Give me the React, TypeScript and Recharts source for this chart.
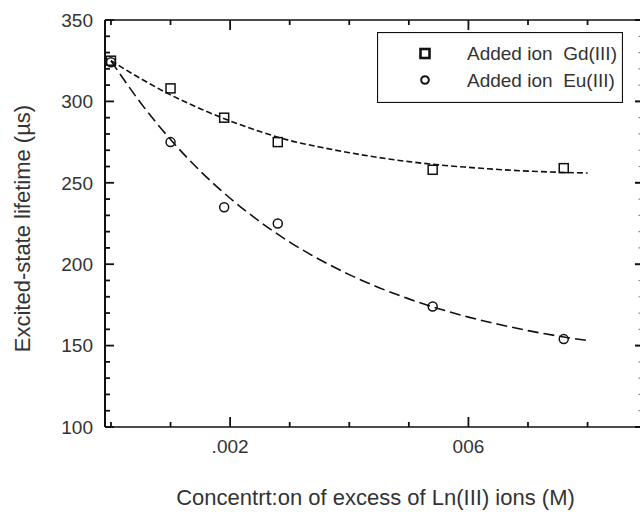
import React from "react";
import { ComposedChart, Line, Scatter, XAxis, YAxis, Legend } from "recharts";

// ---- data ----
const fitX = [0, 0.0005, 0.001, 0.0015, 0.002, 0.0025, 0.003, 0.0035, 0.004, 0.0045, 0.005, 0.0055, 0.006, 0.0065, 0.007, 0.0075, 0.008];
const gdFit = [325, 314, 304, 295.5, 288, 281.5, 276, 272, 268.5, 265.5, 263, 261, 259.5, 258.2, 257.2, 256.5, 256];
const euFit = [325, 299, 276.6, 257.2, 240.5, 226.1, 213.6, 202.9, 193.6, 185.6, 178.7, 172.7, 167.5, 163.1, 159.2, 155.9, 153.1];

const gdX = [0, 0.001, 0.0019, 0.0028, 0.0054, 0.0076];
const gdY = [325, 308, 290, 275, 258, 259];
const euX = [0, 0.001, 0.0019, 0.0028, 0.0054, 0.0076];
const euY = [324, 275, 235, 225, 174, 154];

const xTicks = [0, 0.001, 0.002, 0.003, 0.004, 0.005, 0.006, 0.007, 0.008];
const xTickLabels = ["", "", ".002", "", "", "", "006", "", ""];
const yTicks = [100, 110, 120, 130, 140, 150, 160, 170, 180, 190, 200, 210, 220, 230, 240, 250, 260, 270, 280, 290, 300, 310, 320, 330, 340, 350];
const yMajor = [100, 150, 200, 250, 300, 350];

const seriesNames = ["Added ion  Gd(III)", "Added ion  Eu(III)"];
const xTitle = "Concentrt:on of excess of Ln(III) ions (M)";
const yTitle = "Excited-state lifetime (\u00b5s)";

const gdFitData = fitX.map((x, i) => ({ x, y: gdFit[i] }));
const euFitData = fitX.map((x, i) => ({ x, y: euFit[i] }));
const gdPts = gdX.map((x, i) => ({ x, y: gdY[i] }));
const euPts = euX.map((x, i) => ({ x, y: euY[i] }));

const X_DOMAIN = [-0.0001, 0.00888];
const Y_DOMAIN = [100, 350];

const FONT = "'Liberation Sans', Arial, sans-serif";
const TXT = "#333";
const INK = "#111";

const BottomTick = (p: any) => {
  const lab = xTickLabels[p.index] || "";
  const len = lab ? 10 : 5;
  return (
    <g>
      <line x1={p.x} x2={p.x} y1={p.y} y2={p.y - len} stroke={INK} strokeWidth={1.8} />
      {lab ? (
        <text x={p.x} y={p.y + 26} textAnchor="middle" fontSize={19} fontFamily={FONT} fill={TXT}>
          {lab}
        </text>
      ) : null}
    </g>
  );
};

const TopTick = (p: any) => {
  const lab = xTickLabels[p.index] || "";
  const len = lab ? 10 : 5;
  return <line x1={p.x} x2={p.x} y1={p.y} y2={p.y + len} stroke={INK} strokeWidth={1.8} />;
};

const LeftTick = (p: any) => {
  const v = p.payload.value;
  const major = yMajor.includes(v);
  return (
    <g>
      <line x1={p.x} x2={p.x + (major ? 9 : 5)} y1={p.y} y2={p.y} stroke={INK} strokeWidth={1.8} />
      {major ? (
        <text x={p.x - 12} y={p.y} dy="0.36em" textAnchor="end" fontSize={19} fontFamily={FONT} fill={TXT}>
          {v}
        </text>
      ) : null}
    </g>
  );
};

const RightTick = (p: any) => {
  const v = p.payload.value;
  const major = yMajor.includes(v);
  return (
    <line
      x1={p.x}
      x2={p.x - (major ? 5 : 1.5)}
      y1={p.y}
      y2={p.y}
      stroke={major ? INK : "#888"}
      strokeWidth={major ? 2 : 1.2}
    />
  );
};

const OpenSquare = (p: any) => (
  <rect x={p.cx - 4.5} y={p.cy - 4.5} width={9} height={9} fill="none" stroke={INK} strokeWidth={1.5} />
);
const OpenCircle = (p: any) => (
  <circle cx={p.cx} cy={p.cy} r={4.5} fill="none" stroke={INK} strokeWidth={1.5} />
);

const LegendBox = () => (
  <svg width={246} height={71} style={{ display: "block" }}>
    <rect x={0.5} y={0.5} width={245} height={70} fill="#fff" stroke={INK} strokeWidth={1.2} />
    <rect x={43.5} y={17} width={9} height={9} fill="none" stroke={INK} strokeWidth={2.6} />
    <circle cx={48} cy={48} r={3.8} fill="none" stroke={INK} strokeWidth={2} />
    <text x={90} y={28} fontSize={19} fontFamily={FONT} fill={TXT} style={{ whiteSpace: "pre" }}>
      {seriesNames[0]}
    </text>
    <text x={90} y={55} fontSize={19} fontFamily={FONT} fill={TXT} style={{ whiteSpace: "pre" }}>
      {seriesNames[1]}
    </text>
  </svg>
);

const YTitle = (props: any) => {
  const vb = props.viewBox || { x: 0, y: 20, width: 105, height: 407 };
  const cx = vb.x + 22;
  const cy = vb.y + vb.height / 2 + 5;
  return (
    <text
      x={cx}
      y={cy}
      transform={`rotate(-90 ${cx} ${cy})`}
      textAnchor="middle"
      dy="0.36em"
      fontSize={22}
      fontFamily={FONT}
      fill={TXT}
    >
      {yTitle}
    </text>
  );
};

const XTitle = (props: any) => {
  const vb = props.viewBox || { x: 105, y: 427, width: 535, height: 85 };
  return (
    <text x={vb.x + vb.width / 2 + 3} y={vb.y + 78} textAnchor="middle" fontSize={22} fontFamily={FONT} fill={TXT}>
      {xTitle}
    </text>
  );
};

export default function App() {
  return (
    <div style={{ position: "absolute", left: 0, top: 0, width: 641, height: 512, background: "#fff" }}>
      <ComposedChart width={641} height={512} margin={{ top: 19, right: 0, bottom: 0, left: 0 }}>
        <XAxis
          xAxisId="b"
          dataKey="x"
          type="number"
          domain={X_DOMAIN}
          ticks={xTicks}
          interval={0}
          allowDataOverflow
          height={85}
          tickSize={0}
          tickMargin={0}
          tickLine={false}
          tick={<BottomTick />}
          axisLine={{ stroke: INK, strokeWidth: 1.6 }}
          label={<XTitle />}
        />
        <XAxis
          xAxisId="t"
          orientation="top"
          dataKey="x"
          type="number"
          domain={X_DOMAIN}
          ticks={xTicks}
          interval={0}
          allowDataOverflow
          height={1}
          tickSize={0}
          tickMargin={0}
          tickLine={false}
          tick={<TopTick />}
          axisLine={{ stroke: INK, strokeWidth: 1.4 }}
        />
        <YAxis
          yAxisId="l"
          type="number"
          domain={Y_DOMAIN}
          ticks={yTicks}
          interval={0}
          allowDataOverflow
          width={105}
          tickSize={0}
          tickMargin={0}
          tickLine={false}
          tick={<LeftTick />}
          axisLine={{ stroke: INK, strokeWidth: 2 }}
          label={<YTitle />}
        />
        <YAxis
          yAxisId="r"
          orientation="right"
          type="number"
          domain={Y_DOMAIN}
          ticks={yTicks}
          interval={0}
          allowDataOverflow
          width={1}
          tickSize={0}
          tickMargin={0}
          tickLine={false}
          tick={<RightTick />}
          axisLine={false}
        />
        <Legend
          layout="vertical"
          align="center"
          verticalAlign="middle"
          content={<LegendBox />}
          wrapperStyle={{ position: "absolute", left: 377, top: 32, width: 246, height: 71 }}
        />
        {/* invisible carrier series so the top and right frame axes get their scales */}
        <Line
          xAxisId="t"
          yAxisId="r"
          data={gdFitData}
          dataKey="y"
          stroke="none"
          dot={false}
          activeDot={false}
          legendType="none"
          isAnimationActive={false}
        />
        <Line
          xAxisId="b"
          yAxisId="l"
          data={gdFitData}
          dataKey="y"
          type="monotone"
          stroke={INK}
          strokeWidth={1.6}
          strokeDasharray="6 3"
          dot={false}
          activeDot={false}
          legendType="none"
          isAnimationActive={false}
        />
        <Line
          xAxisId="b"
          yAxisId="l"
          data={euFitData}
          dataKey="y"
          type="monotone"
          stroke={INK}
          strokeWidth={1.6}
          strokeDasharray="11 5"
          dot={false}
          activeDot={false}
          legendType="none"
          isAnimationActive={false}
        />
        <Scatter
          xAxisId="b"
          yAxisId="l"
          name={seriesNames[0]}
          data={gdPts}
          dataKey="y"
          shape={<OpenSquare />}
          isAnimationActive={false}
        />
        <Scatter
          xAxisId="b"
          yAxisId="l"
          name={seriesNames[1]}
          data={euPts}
          dataKey="y"
          shape={<OpenCircle />}
          isAnimationActive={false}
        />
      </ComposedChart>
    </div>
  );
}
